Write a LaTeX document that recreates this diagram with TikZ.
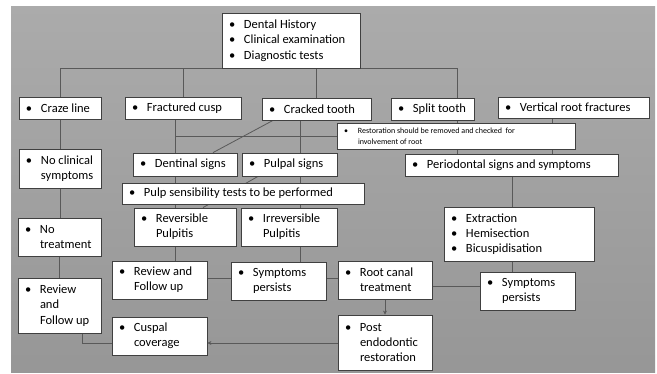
\documentclass[tikz,border=0pt]{standalone}
\usepackage{fontspec}
\setmainfont{Carlito}
\usetikzlibrary{arrows.meta}
\pgfdeclarelayer{bgshade}
\pgfdeclarelayer{lines}
\pgfsetlayers{bgshade,lines,main}
\newcommand\bul[1]{\hspace*{7pt}\makebox[15pt][l]{\textbullet}#1\par}
\newcommand\cont[1]{\hspace*{22pt}#1\par}
\newcommand\sbul[1]{\hspace*{7pt}\makebox[14pt][l]{\textbullet}#1\par}
\newcommand\scont[1]{\hspace*{21pt}#1\par}
% style, name, x1, y1, x2, y2, content
\newcommand\bx[7][box]{%
  \node[#1, minimum height={(#6-#4)*1pt}] (#2) at ({(#3+#5)/2},{(#4+#6)/2})
    {\parbox{\dimexpr#5pt-#3pt\relax}{#7}};}
\begin{document}
\begin{tikzpicture}[x=1pt,y=-1pt,
  box/.style={draw=black!75, fill=white, line width=0.8pt, inner sep=0pt,
    font=\fontsize{12.5}{15.3}\selectfont},
  smallbox/.style={box, font=\fontsize{8}{11}\selectfont},
  conn/.style={draw=black!65, line width=0.8pt},
  arr/.style={conn, -{Stealth[length=4pt,width=4pt]}}]
\begin{pgfonlayer}{bgshade}
\fill[white] (0,0) rectangle (657,374);
\shade[top color=black!33, bottom color=black!41] (11,7) rectangle (655,373);
\end{pgfonlayer}
\useasboundingbox (0,0) rectangle (657,374);

% boxes
\bx{nTop}{222}{13}{360}{68}{\bul{Dental History}\bul{Clinical examination}\bul{Diagnostic tests}}
\bx{craze}{19}{97}{101}{119}{\bul{Craze line}}
\bx{frac}{125}{97}{241}{119}{\bul{Fractured cusp}}
\bx{crack}{262}{98}{371}{120}{\bul{Cracked tooth}}
\bx{split}{391}{98}{474}{120}{\bul{Split tooth}}
\bx{vrf}{498}{97}{649}{118}{\bul{Vertical root fractures}}
\bx[smallbox]{rest}{337}{123}{575}{149}{\sbul{Restoration should be removed and checked\ \ for}\scont{involvement of root}}
\bx{perio}{405}{154}{618}{176}{\bul{Periodontal signs and symptoms}}
\bx{noclin}{19}{149}{101}{188}{\bul{No clinical}\cont{symptoms}}
\bx{dent}{133}{153}{237}{176}{\bul{Dentinal signs}}
\bx{pulpal}{242}{153}{337}{176}{\bul{Pulpal signs}}
\bx{pst}{122}{183}{364}{204}{\bul{Pulp sensibility tests to be performed}}
\bx{rev}{134}{208}{236}{246}{\bul{Reversible}\cont{Pulpitis}}
\bx{irr}{241}{208}{337}{246}{\bul{Irreversible}\cont{Pulpitis}}
\bx{notr}{18}{218}{101}{256}{\bul{No}\cont{treatment}}
\bx{revL}{18}{278}{101}{333}{\bul{Review}\cont{and}\cont{Follow up}}
\bx{revM}{112}{261}{207}{299}{\bul{Review and}\cont{Follow up}}
\bx{symM}{231}{262}{326}{300}{\bul{Symptoms}\cont{persists}}
\bx{cusp}{112}{317}{207}{355}{\bul{Cuspal}\cont{coverage}}
\bx{rct}{338}{261}{432}{299}{\bul{Root canal}\cont{treatment}}
\bx{post}{338}{315}{432}{370}{\bul{Post}\cont{endodontic}\cont{restoration}}
\bx{extr}{444}{207}{594}{261}{\bul{Extraction}\bul{Hemisection}\bul{Bicuspidisation}}
\bx{symR}{480}{272}{575}{310}{\bul{Symptoms}\cont{persists}}

% junction coordinates
\coordinate (sv) at (457,0);
\coordinate (vv) at (552,0);
\coordinate (v1) at (175,0);
\coordinate (v2) at (300,0);
\coordinate (pv) at (512,0);
\coordinate (hR) at (0,286);
\coordinate (hm) at (0,278);
\coordinate (hc) at (0,343);
\coordinate (rl) at (82,0);

% connectors, drawn on a layer below the boxes
\begin{pgfonlayer}{lines}
\draw[conn] (craze.north) |- (sv |- nTop.south) -- (sv |- split.north);
\draw[conn] (frac.north) -- (frac.north |- nTop.south);
\draw[conn] (crack.north) -- (crack.north |- nTop.south);
\draw[conn] (craze.south) -- (craze.south |- noclin.north);
\draw[conn] (noclin.south) -- (noclin.south |- notr.north);
\draw[conn] (notr.south) -- (notr.south |- revL.north);
\draw[conn] (rl |- revL.south) |- (cusp.west |- hc);
\draw[conn] (frac.south -| v1) -- (rev.north -| v1);
\draw[conn] (crack.south -| v2) -- (irr.north -| v2);
\draw[conn] (rest.west) -- (rest.west -| v1);
\draw[conn] ([xshift=-43.5pt]crack.south) -- ([xshift=28pt]dent.north);
\draw[conn] ([xshift=-31.5pt]pulpal.south) -- ([xshift=18pt]rev.north);
\draw[conn] (sv |- split.south) -- (sv |- perio.north);
\draw[conn] (vv |- vrf.south) -- (vv |- perio.north);
\draw[conn] (perio.south -| pv) -- (extr.north -| pv);
\draw[conn] (extr.south -| pv) -- (symR.north -| pv);
\draw[conn] (rct.east |- hR) -- (symR.west |- hR);
\draw[conn] (rev.south -| v1) -- (revM.north -| v1);
\draw[conn] (irr.south -| v2) -- (symM.north -| v2);
\draw[conn] (revM.east |- hm) -- (symM.west |- hm);
\draw[conn] (symM.east |- hm) -- (rct.west |- hm);
\draw[arr] (rct.south) -- (post.north);
\draw[arr] (post.west |- hc) -- (cusp.east |- hc);
\end{pgfonlayer}
\end{tikzpicture}
\end{document}
